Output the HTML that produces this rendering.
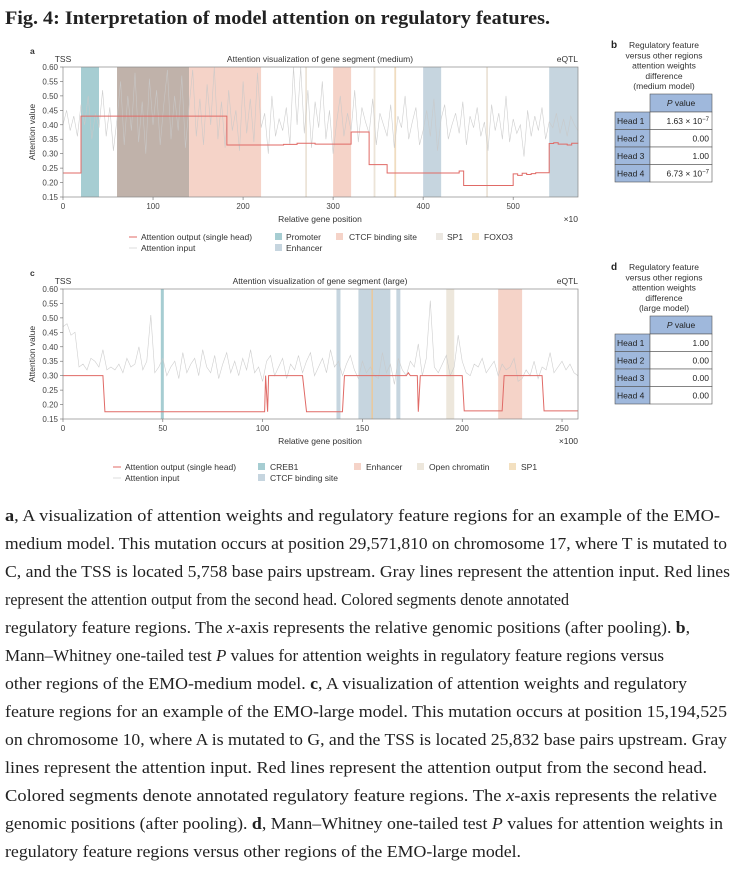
<!DOCTYPE html>
<html><head><meta charset="utf-8"><style>
body{margin:0;background:#fff;}
svg{display:block;font-family:"Liberation Sans",sans-serif;}
.tk{font-size:8px;fill:#444;}
.lb{font-size:8.5px;fill:#333;}
.cap{font-family:"Liberation Serif",serif;font-size:17px;fill:#222;}
</style></head><body>
<svg id="fig" width="736" height="872" viewBox="0 0 736 872">
<text x="5" y="24" font-family="Liberation Serif,serif" font-weight="bold" font-size="19" fill="#222" textLength="545" lengthAdjust="spacingAndGlyphs">Fig. 4: Interpretation of model attention on regulatory features.</text>

<g id="chartA"></g>
<g id="chartC"></g>

<g class="lb">
<line x1="129" y1="237" x2="137" y2="237" stroke="#e06a66" stroke-width="1"/>
<text x="141" y="240">Attention output (single head)</text>
<line x1="129" y1="248" x2="137" y2="248" stroke="#ddd" stroke-width="1"/>
<text x="141" y="251">Attention input</text>
<rect x="275" y="233" width="7" height="7" fill="#a6cdd2"/><text x="286" y="240">Promoter</text>
<rect x="275" y="244" width="7" height="7" fill="#c6d5df"/><text x="286" y="251">Enhancer</text>
<rect x="336" y="233" width="7" height="7" fill="#f5d3c8"/><text x="349" y="240">CTCF binding site</text>
<rect x="436" y="233" width="7" height="7" fill="#ece8e2"/><text x="447" y="240">SP1</text>
<rect x="472" y="233" width="7" height="7" fill="#f3e0c0"/><text x="484" y="240">FOXO3</text>
</g>
<g class="lb">
<line x1="113" y1="467" x2="121" y2="467" stroke="#e06a66"/>
<text x="125" y="470">Attention output (single head)</text>
<line x1="113" y1="478" x2="121" y2="478" stroke="#ddd"/>
<text x="125" y="481">Attention input</text>
<rect x="258" y="463" width="7" height="7" fill="#a6cdd2"/><text x="270" y="470">CREB1</text>
<rect x="258" y="474" width="7" height="7" fill="#c6d5df"/><text x="270" y="481">CTCF binding site</text>
<rect x="354" y="463" width="7" height="7" fill="#f5d3c8"/><text x="366" y="470">Enhancer</text>
<rect x="417" y="463" width="7" height="7" fill="#ede7dc"/><text x="429" y="470">Open chromatin</text>
<rect x="509" y="463" width="7" height="7" fill="#f3e0c0"/><text x="521" y="470">SP1</text>
</g>

<g id="tables"></g>

<g class="cap">
<text x="5" y="521" textLength="715" lengthAdjust="spacingAndGlyphs"><tspan font-weight="bold">a</tspan>, A visualization of attention weights and regulatory feature regions for an example of the EMO-</text>
<text x="5" y="549" textLength="722" lengthAdjust="spacingAndGlyphs">medium model. This mutation occurs at position 29,571,810 on chromosome 17, where T is mutated to</text>
<text x="5" y="577" textLength="725" lengthAdjust="spacingAndGlyphs">C, and the TSS is located 5,758 base pairs upstream. Gray lines represent the attention input. Red lines</text>
<text x="5" y="605" textLength="564" lengthAdjust="spacingAndGlyphs">represent the attention output from the second head. Colored segments denote annotated</text>
<text x="5" y="633" textLength="685" lengthAdjust="spacingAndGlyphs">regulatory feature regions. The <tspan font-style="italic">x</tspan>-axis represents the relative genomic positions (after pooling). <tspan font-weight="bold">b</tspan>,</text>
<text x="5" y="661" textLength="659" lengthAdjust="spacingAndGlyphs">Mann–Whitney one-tailed test <tspan font-style="italic">P</tspan> values for attention weights in regulatory feature regions versus</text>
<text x="5" y="689" textLength="682" lengthAdjust="spacingAndGlyphs">other regions of the EMO-medium model. <tspan font-weight="bold">c</tspan>, A visualization of attention weights and regulatory</text>
<text x="5" y="717" textLength="722" lengthAdjust="spacingAndGlyphs">feature regions for an example of the EMO-large model. This mutation occurs at position 15,194,525</text>
<text x="5" y="745" textLength="722" lengthAdjust="spacingAndGlyphs">on chromosome 10, where A is mutated to G, and the TSS is located 25,832 base pairs upstream. Gray</text>
<text x="5" y="773" textLength="702" lengthAdjust="spacingAndGlyphs">lines represent the attention input. Red lines represent the attention output from the second head.</text>
<text x="5" y="801" textLength="712" lengthAdjust="spacingAndGlyphs">Colored segments denote annotated regulatory feature regions. The <tspan font-style="italic">x</tspan>-axis represents the relative</text>
<text x="5" y="829" textLength="718" lengthAdjust="spacingAndGlyphs">genomic positions (after pooling). <tspan font-weight="bold">d</tspan>, Mann–Whitney one-tailed test <tspan font-style="italic">P</tspan> values for attention weights in</text>
<text x="5" y="857" textLength="516" lengthAdjust="spacingAndGlyphs">regulatory feature regions versus other regions of the EMO-large model.</text>
</g>
</svg>
<script>
// ---- data: chart a (medium) ----
const aRegionStart = [20, 60, 140, 300, 400, 540, 269, 345, 470, 368];
const aRegionEnd   = [40, 140, 220, 320, 420, 572, 271, 347, 472, 370];
const aRegionType  = ['promoter','mixed','ctcf','ctcf','enhancer','enhancer','sp1','sp1','sp1','foxo3'];
const aOutX = [0,20,182,245,260,280,320,340,360,440,445,500,505,510,515,520,525,530,540,545,550,560,565,572];
const aOutY = [0.233,0.43,0.33,0.332,0.336,0.333,0.375,0.262,0.233,0.24,0.19,0.23,0.225,0.232,0.228,0.231,0.234,0.234,0.335,0.338,0.333,0.33,0.336,0.335];
const aInStep = 4;
const aIn = [0.40,0.45,0.38,0.43,0.36,0.47,0.40,0.50,0.35,0.44,0.39,0.52,0.36,0.46,0.31,0.42,0.55,0.33,0.50,0.38,0.58,0.34,0.48,0.30,0.56,0.40,0.52,0.33,0.47,0.59,0.35,0.50,0.38,0.57,0.32,0.46,0.59,0.36,0.49,0.33,0.54,0.40,0.60,0.35,0.48,0.32,0.52,0.38,0.45,0.31,0.55,0.37,0.49,0.34,0.58,0.39,0.44,0.30,0.50,0.36,0.42,0.38,0.46,0.33,0.60,0.40,0.60,0.37,0.52,0.32,0.48,0.39,0.55,0.35,0.45,0.30,0.41,0.50,0.36,0.44,0.38,0.52,0.34,0.46,0.41,0.37,0.49,0.33,0.44,0.40,0.36,0.47,0.32,0.43,0.39,0.50,0.35,0.41,0.46,0.33,0.38,0.45,0.36,0.49,0.31,0.42,0.47,0.35,0.40,0.44,0.37,0.48,0.33,0.43,0.39,0.46,0.36,0.41,0.31,0.47,0.38,0.44,0.35,0.50,0.34,0.42,0.37,0.40,0.29,0.45,0.36,0.43,0.38,0.46,0.35,0.41,0.39,0.44,0.37,0.42,0.36,0.43,0.40,0.38];
// ---- data: chart c (large) ----
const cRegionStart = [49, 137, 148, 167, 192, 218, 154.5];
const cRegionEnd   = [50.5, 139, 164, 169, 196, 230, 155.3];
const cRegionType  = ['creb1','ctcf','ctcf','ctcf','open','enhancer','sp1'];
const cOutX = [0,20,21,101,101.5,102.5,103,120,122,140,141,172,173,174,177.5,178,179,200,201,220,221,240,241,258];
const cOutY = [0.30,0.30,0.175,0.175,0.30,0.175,0.30,0.30,0.175,0.175,0.30,0.30,0.31,0.30,0.30,0.175,0.30,0.30,0.178,0.178,0.30,0.30,0.178,0.178];
const cInStep = 2;
const cIn = [0.47,0.48,0.44,0.45,0.33,0.34,0.32,0.36,0.35,0.33,0.39,0.32,0.33,0.32,0.34,0.31,0.36,0.33,0.34,0.40,0.32,0.35,0.51,0.31,0.33,0.36,0.30,0.33,0.35,0.29,0.38,0.31,0.34,0.36,0.30,0.39,0.33,0.31,0.37,0.29,0.34,0.38,0.31,0.35,0.30,0.36,0.32,0.39,0.31,0.33,0.28,0.35,0.37,0.30,0.33,0.36,0.29,0.34,0.32,0.37,0.31,0.35,0.38,0.30,0.33,0.36,0.31,0.39,0.33,0.35,0.30,0.34,0.37,0.32,0.29,0.35,0.31,0.33,0.30,0.29,0.38,0.31,0.34,0.27,0.36,0.32,0.30,0.35,0.33,0.41,0.30,0.36,0.56,0.33,0.31,0.34,0.37,0.30,0.33,0.44,0.35,0.31,0.30,0.34,0.33,0.36,0.31,0.33,0.35,0.30,0.34,0.32,0.33,0.36,0.28,0.29,0.32,0.30,0.35,0.29,0.33,0.32,0.38,0.31,0.33,0.35,0.32,0.34,0.31,0.30];
const yTicks = [0.15,0.20,0.25,0.30,0.35,0.40,0.45,0.50,0.55,0.60];
const aXTicks = [0,100,200,300,400,500];
const cXTicks = [0,50,100,150,200,250];
const tabBVals = ['1.63 × 10<tspan baseline-shift="super" font-size="6">−7</tspan>','0.00','1.00','6.73 × 10<tspan baseline-shift="super" font-size="6">−7</tspan>'];
const tabDVals = ['1.00','0.00','0.00','0.00'];
const heads = ['Head 1','Head 2','Head 3','Head 4'];

const NS='http://www.w3.org/2000/svg';
const colorsA={promoter:'#a6cdd2',mixed:'#c0b2aa',ctcf:'#f5d3c8',enhancer:'#c6d5df',sp1:'#ece4d8',foxo3:'#f0dcc0'};
const colorsC={creb1:'#a6cdd2',ctcf:'#c6d5df',enhancer:'#f5d3c8',open:'#ede7dc',sp1:'#e8c9a0'};
function el(tag,attrs,parent){const e=document.createElementNS(NS,tag);for(const k in attrs)e.setAttribute(k,attrs[k]);parent.appendChild(e);return e;}

function drawChart(g,o){
  const L=63,R=578,T=o.top,B=o.top+130;
  const xs=v=>L+(v/o.xMax)*(R-L), ys=v=>B-(v-0.15)/0.45*(B-T);
  for(let i=0;i<o.rs.length;i++){
    const t=o.rt[i];
    const r=el('rect',{x:xs(o.rs[i]),y:T,width:Math.max(0.8,xs(o.re[i])-xs(o.rs[i])),height:B-T,fill:o.colors[t]},g);
    
    
  }
  let d='';
  o.inp.forEach((v,i)=>{d+=(i?'L':'M')+xs(Math.min(i*o.step,o.xMax)).toFixed(1)+','+ys(v).toFixed(1);});
  const pin=el('path',{d:d,fill:'none',stroke:'#c9c9c9','stroke-width':0.6,opacity:0.9},g);
  
  
  let d2='';
  for(let i=0;i<o.ox.length;i++){
    const x=xs(o.ox[i]),y=ys(o.oy[i]);
    if(i===0)d2+='M'+x+','+y; else{ if(o.step2) d2+='L'+x+','+ys(o.oy[i-1]); d2+='L'+x+','+y;}
  }
  const pout=el('path',{d:d2,fill:'none',stroke:'#e06a66','stroke-width':1},g);
  
  
  el('rect',{x:L,y:T,width:R-L,height:B-T,fill:'none',stroke:'#888','stroke-width':0.7},g);
  yTicks.forEach(v=>{el('line',{x1:L-3,x2:L,y1:ys(v),y2:ys(v),stroke:'#666','stroke-width':0.6},g);
    const t=el('text',{x:L-5,y:ys(v)+3,'text-anchor':'end',class:'tk'},g);t.textContent=v.toFixed(2);
    });
  o.xt.forEach(v=>{el('line',{x1:xs(v),x2:xs(v),y1:B,y2:B+3,stroke:'#666','stroke-width':0.6},g);
    const t=el('text',{x:xs(v),y:B+12,'text-anchor':'middle',class:'tk'},g);t.textContent=v;
    });
  const lab=(txt,x,y,anc,name,extra)=>{const t=el('text',Object.assign({x:x,y:y,'text-anchor':anc,class:'lb'},extra||{}),g);t.textContent=txt;
    return t;};
  lab(o.letter,30,T-13,'start','panel-letter',{'font-weight':'bold','font-size':'10'});
  lab('TSS',63,T-5,'middle','tss-label');
  lab(o.title,320,T-5,'middle','chart-title');
  lab('eQTL',578,T-5,'end','eqtl-label');
  lab('Relative gene position',320,B+25,'middle','x-axis-title');
  lab(o.mult,578,B+25,'end','x-multiplier');
  lab('Attention value',0,0,'middle','y-axis-title',{transform:'translate(35,'+(T+B)/2+') rotate(-90)'});
}
drawChart(document.getElementById('chartA'),{top:67,xMax:572,colors:colorsA,rs:aRegionStart,re:aRegionEnd,rt:aRegionType,inp:aIn,step:aInStep,ox:aOutX,oy:aOutY,step2:true,xt:aXTicks,letter:'a',title:'Attention visualization of gene segment (medium)',mult:'×10'});
drawChart(document.getElementById('chartC'),{top:289,xMax:258,colors:colorsC,rs:cRegionStart,re:cRegionEnd,rt:cRegionType,inp:cIn,step:cInStep,ox:cOutX,oy:cOutY,step2:false,xt:cXTicks,letter:'c',title:'Attention visualization of gene segment (large)',mult:'×100'});

function drawTable(top,letter,model,vals,name){
  const g=el('g',{},document.getElementById('tables'));
  
  
  const lt=el('text',{x:611,y:top,'font-weight':'bold','font-size':'10',fill:'#222'},g);lt.textContent=letter;
  ['Regulatory feature','versus other regions','attention weights','difference','('+model+')'].forEach((s,i)=>{
    const t=el('text',{x:664,y:top+i*10.3,'text-anchor':'middle','font-size':'8.5',fill:'#333'},g);t.textContent=s;});
  const ty=top+46;
  el('rect',{x:650,y:ty,width:62,height:18,fill:'#9fb8dc',stroke:'#555','stroke-width':0.6},g);
  const h=el('text',{x:681,y:ty+12,'text-anchor':'middle','font-size':'8.5',fill:'#222'},g);h.innerHTML='<tspan font-style="italic">P</tspan> value';
  vals.forEach((v,i)=>{
    const y=ty+18+i*17.5;
    el('rect',{x:615,y:y,width:35,height:17.5,fill:'#9fb8dc',stroke:'#555','stroke-width':0.6},g);
    el('rect',{x:650,y:y,width:62,height:17.5,fill:'#fff',stroke:'#555','stroke-width':0.6},g);
    const a=el('text',{x:617,y:y+12,'font-size':'8.5',fill:'#222'},g);a.textContent=heads[i];
    const b=el('text',{x:709,y:y+12,'text-anchor':'end','font-size':'8.5',fill:'#222'},g);b.innerHTML=v;
    
    
  });
}
drawTable(48,'b','medium model',tabBVals,'table-b-medium');
drawTable(270,'d','large model',tabDVals,'table-d-large');
</script>
</body></html>
